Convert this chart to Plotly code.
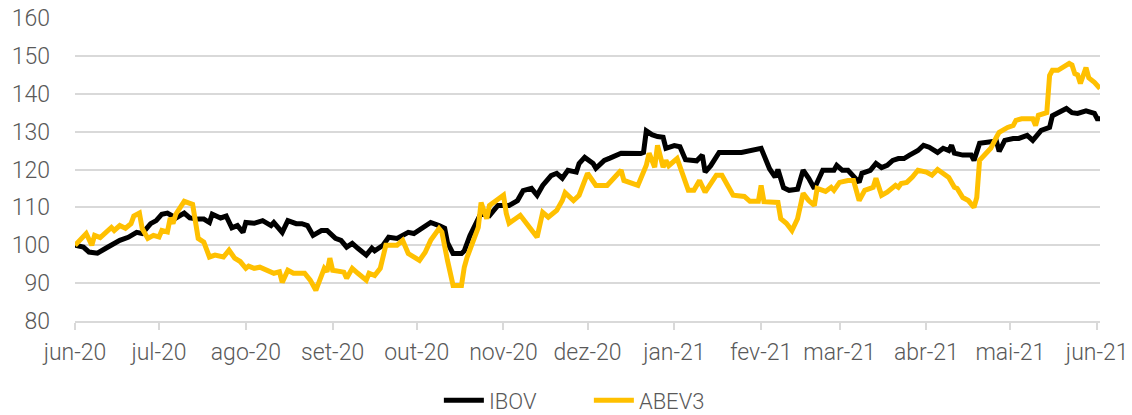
import plotly.graph_objects as go

# ---- data ----
ibov_dates = [
    "2020-06-01", "2020-06-04", "2020-06-06", "2020-06-09", "2020-06-12", "2020-06-14", "2020-06-17",
    "2020-06-20", "2020-06-23", "2020-06-25", "2020-06-28", "2020-06-30", "2020-07-02", "2020-07-04",
    "2020-07-07", "2020-07-10", "2020-07-12", "2020-07-15", "2020-07-17", "2020-07-19", "2020-07-20",
    "2020-07-23", "2020-07-25", "2020-07-27", "2020-07-29", "2020-07-31", "2020-08-01", "2020-08-04",
    "2020-08-07", "2020-08-10", "2020-08-11", "2020-08-14", "2020-08-16", "2020-08-19", "2020-08-21",
    "2020-08-23", "2020-08-25", "2020-08-28", "2020-08-30", "2020-09-02", "2020-09-04", "2020-09-06",
    "2020-09-08", "2020-09-10", "2020-09-13", "2020-09-15", "2020-09-16", "2020-09-19", "2020-09-21",
    "2020-09-24", "2020-09-26", "2020-09-28", "2020-09-30", "2020-10-03", "2020-10-06", "2020-10-09",
    "2020-10-11", "2020-10-12", "2020-10-14", "2020-10-17", "2020-10-18", "2020-10-20", "2020-10-23",
    "2020-10-24", "2020-10-27", "2020-10-30", "2020-11-03", "2020-11-06", "2020-11-08", "2020-11-11",
    "2020-11-13", "2020-11-15", "2020-11-18", "2020-11-20", "2020-11-22", "2020-11-24", "2020-11-27",
    "2020-11-28", "2020-11-30", "2020-12-03", "2020-12-04", "2020-12-07", "2020-12-09", "2020-12-13",
    "2020-12-20", "2020-12-21", "2020-12-22", "2020-12-24", "2020-12-26", "2020-12-28", "2020-12-29",
    "2021-01-01", "2021-01-03", "2021-01-05", "2021-01-09", "2021-01-11", "2021-01-12", "2021-01-14",
    "2021-01-17", "2021-01-25", "2021-02-01", "2021-02-02", "2021-02-04", "2021-02-06", "2021-02-07",
    "2021-02-09", "2021-02-11", "2021-02-14", "2021-02-16", "2021-02-18", "2021-02-20", "2021-02-23",
    "2021-02-27", "2021-02-28", "2021-03-02", "2021-03-04", "2021-03-08", "2021-03-09", "2021-03-12",
    "2021-03-14", "2021-03-16", "2021-03-18", "2021-03-20", "2021-03-22", "2021-03-24", "2021-03-26",
    "2021-03-29", "2021-03-31", "2021-04-02", "2021-04-05", "2021-04-07", "2021-04-09", "2021-04-10",
    "2021-04-11", "2021-04-14", "2021-04-17", "2021-04-18", "2021-04-20", "2021-04-23", "2021-04-26",
    "2021-04-27", "2021-04-29", "2021-05-02", "2021-05-04", "2021-05-07", "2021-05-09", "2021-05-12",
    "2021-05-15", "2021-05-16", "2021-05-19", "2021-05-21", "2021-05-23", "2021-05-25", "2021-05-28",
    "2021-05-29", "2021-05-31", "2021-06-01", "2021-06-02",
]
ibov_values = [
    100, 99.5, 98.2, 97.9, 99.2, 100, 101.3,
    102.1, 103.4, 103.1, 105.7, 106.5, 108.2, 108.5,
    107.2, 108.5, 107.2, 106.9, 106.9, 106, 108.2,
    107.2, 107.7, 104.6, 105.2, 103.4, 106, 105.8,
    106.5, 105.2, 106, 103.4, 106.5, 105.7, 105.7,
    105.2, 102.6, 103.9, 103.9, 101.8, 101.3, 99.5,
    100.5, 99.2, 97.4, 99.2, 98.5, 100, 102.1,
    101.8, 102.6, 103.4, 103.1, 104.4, 106, 105.2,
    104.5, 100.7, 97.8, 97.8, 98.5, 102.5, 106.5,
    108.5, 107.8, 110.5, 110.5, 111.8, 114.4, 115,
    113.2, 115.8, 118.4, 119, 117.7, 119.8, 119.3,
    121.6, 123.2, 121.6, 120.3, 122.4, 123, 124.3,
    124.2, 124.5, 130.2, 129.2, 128.7, 128.5, 125.6,
    126.3, 126, 122.6, 122.3, 123.8, 119.3, 121,
    124.5, 124.5, 125.6, 124, 120.2, 118, 120,
    115.2, 114.5, 114.8, 119.8, 117.7, 115, 119.8,
    119.8, 121.1, 119.8, 119.8, 116.6, 119, 119.8,
    121.6, 120.5, 121.1, 122.4, 122.9, 122.9, 123.8,
    125, 126.4, 125.9, 124.5, 125.6, 125, 126.4,
    124.3, 123.8, 123.8, 122.4, 126.9, 127.2, 127.5,
    124.8, 127.7, 128.2, 128.2, 129, 127.7, 130.3,
    131.1, 134.2, 135.5, 136.1, 135, 134.8, 135.5,
    135.2, 134.8, 133.4, 133.4,
]

abev_dates = [
    "2020-06-01", "2020-06-03", "2020-06-05", "2020-06-07", "2020-06-08", "2020-06-10", "2020-06-12",
    "2020-06-14", "2020-06-15", "2020-06-17", "2020-06-19", "2020-06-21", "2020-06-22", "2020-06-24",
    "2020-06-25", "2020-06-27", "2020-06-29", "2020-07-01", "2020-07-02", "2020-07-04", "2020-07-05",
    "2020-07-06", "2020-07-07", "2020-07-10", "2020-07-13", "2020-07-15", "2020-07-17", "2020-07-19",
    "2020-07-21", "2020-07-24", "2020-07-26", "2020-07-28", "2020-07-30", "2020-08-01", "2020-08-02",
    "2020-08-04", "2020-08-06", "2020-08-09", "2020-08-11", "2020-08-13", "2020-08-14", "2020-08-16",
    "2020-08-18", "2020-08-22", "2020-08-24", "2020-08-26", "2020-08-28", "2020-08-29", "2020-08-30",
    "2020-08-31", "2020-09-01", "2020-09-05", "2020-09-06", "2020-09-08", "2020-09-10", "2020-09-13",
    "2020-09-14", "2020-09-16", "2020-09-18", "2020-09-20", "2020-09-24", "2020-09-26", "2020-09-28",
    "2020-09-30", "2020-10-02", "2020-10-04", "2020-10-06", "2020-10-09", "2020-10-10", "2020-10-12",
    "2020-10-14", "2020-10-17", "2020-10-18", "2020-10-19", "2020-10-21", "2020-10-23", "2020-10-24",
    "2020-10-26", "2020-10-27", "2020-11-01", "2020-11-02", "2020-11-03", "2020-11-07", "2020-11-10",
    "2020-11-13", "2020-11-15", "2020-11-17", "2020-11-20", "2020-11-22", "2020-11-23", "2020-11-26",
    "2020-11-28", "2020-12-01", "2020-12-04", "2020-12-08", "2020-12-13", "2020-12-14", "2020-12-19",
    "2020-12-22", "2020-12-23", "2020-12-25", "2020-12-26", "2020-12-28", "2020-12-29", "2020-12-30",
    "2021-01-02", "2021-01-06", "2021-01-08", "2021-01-10", "2021-01-12", "2021-01-16", "2021-01-18",
    "2021-01-22", "2021-01-26", "2021-01-28", "2021-01-31", "2021-02-01", "2021-02-02", "2021-02-04",
    "2021-02-07", "2021-02-08", "2021-02-10", "2021-02-12", "2021-02-14", "2021-02-16", "2021-02-18",
    "2021-02-20", "2021-02-21", "2021-02-24", "2021-02-26", "2021-02-27", "2021-03-01", "2021-03-04",
    "2021-03-06", "2021-03-08", "2021-03-10", "2021-03-13", "2021-03-14", "2021-03-16", "2021-03-18",
    "2021-03-21", "2021-03-22", "2021-03-23", "2021-03-25", "2021-03-27", "2021-03-29", "2021-04-01",
    "2021-04-03", "2021-04-05", "2021-04-08", "2021-04-09", "2021-04-11", "2021-04-12", "2021-04-14",
    "2021-04-16", "2021-04-18", "2021-04-19", "2021-04-20", "2021-04-22", "2021-04-24", "2021-04-26",
    "2021-04-27", "2021-04-30", "2021-05-02", "2021-05-03", "2021-05-05", "2021-05-09", "2021-05-10",
    "2021-05-11", "2021-05-14", "2021-05-15", "2021-05-16", "2021-05-18", "2021-05-22", "2021-05-23",
    "2021-05-24", "2021-05-25", "2021-05-26", "2021-05-28", "2021-05-29", "2021-05-31", "2021-06-02",
]
abev_values = [
    100, 101.8, 103.1, 100, 102.6, 102, 103.4,
    104.7, 103.9, 105.2, 104.5, 105.7, 107.7, 108.5,
    104.4, 101.8, 102.6, 102.2, 103.9, 103.5, 107.2,
    105.7, 108.2, 111.6, 110.8, 101.8, 100.8, 96.9,
    97.4, 96.9, 98.7, 96.6, 95.7, 93.9, 94.5,
    93.9, 94.2, 93.4, 92.6, 93, 90.2, 93.4,
    92.6, 92.6, 90.8, 88.1, 91.6, 93.9, 93,
    96.6, 93.4, 92.9, 91.3, 93.9, 92.6, 90.8,
    92.6, 92, 93.9, 100, 100, 101.3, 97.8,
    96.9, 96, 98.1, 101.3, 104.4, 103.5, 96,
    89.4, 89.4, 94.2, 96.8, 100.5, 104.7, 111.3,
    107, 110.5, 113.2, 108.4, 105.8, 107.9, 105.2,
    102.1, 108.7, 107.4, 109.2, 111.8, 113.9, 111.8,
    113.2, 119, 115.8, 115.8, 119.8, 117.1, 115.8,
    121.1, 124.3, 120.6, 126.4, 120.6, 122.4, 121,
    122.9, 114.5, 114.5, 117.1, 114, 118.5, 118.5,
    113.2, 112.9, 111.6, 111.6, 115.8, 111.5, 111.3,
    111.3, 107, 105.8, 103.9, 107, 113.7, 111.8,
    110.5, 115, 114.2, 115.3, 114.5, 116.6, 117.1,
    117.1, 111.8, 114.5, 115.3, 117.7, 113.2, 114,
    115.8, 115.3, 116.3, 116.6, 118, 119.8, 119.3,
    118.5, 120, 118.5, 117.9, 115.3, 115, 112.6,
    111.8, 110, 112.6, 122.4, 123.8, 125.6, 128.5,
    129.8, 131.1, 131.6, 133, 133.4, 133.4, 131.6,
    134.3, 135, 144.8, 146.2, 146.2, 148, 147.6,
    145.3, 145, 142.7, 146.9, 144.2, 143, 141.4,
]

tick_dates = [
    "2020-06-01", "2020-07-01", "2020-08-01", "2020-09-01", "2020-10-01", "2020-11-01", "2020-12-01",
    "2021-01-01", "2021-02-01", "2021-03-01", "2021-04-01", "2021-05-01", "2021-06-01",
]
tick_labels = [
    "jun-20", "jul-20", "ago-20", "set-20", "out-20", "nov-20", "dez-20",
    "jan-21", "fev-21", "mar-21", "abr-21", "mai-21", "jun-21",
]
series_names = ["IBOV", "ABEV3"]
series_colors = ["#000000", "#FFC000"]

# ---- figure ----
fig = go.Figure()
fig.add_trace(go.Scatter(x=ibov_dates, y=ibov_values, mode="lines", name=series_names[0],
                         line=dict(color=series_colors[0], width=5)))
fig.add_trace(go.Scatter(x=abev_dates, y=abev_values, mode="lines", name=series_names[1],
                         line=dict(color=series_colors[1], width=5)))

font_family = "Roboto"
gray = "#595959"
grid = "#d9d9d9"

fig.update_layout(
    width=1132, height=415,
    margin=dict(l=75, r=32, t=18, b=94, autoexpand=False),
    paper_bgcolor="white", plot_bgcolor="white",
    font=dict(family=font_family, size=23, color=gray, weight=300),
    showlegend=True,
    legend=dict(orientation="h", x=0.355, xanchor="left",
                y=-0.262, yanchor="middle", font=dict(size=22, color=gray, weight=300),
                entrywidth=95, entrywidthmode="pixels",
                itemwidth=40, tracegroupgap=0, bgcolor="rgba(0,0,0,0)"),
    xaxis=dict(type="date", range=["2020-06-01", "2021-06-02"],
               tickmode="array", tickvals=tick_dates, ticktext=tick_labels,
               tickangle=0, automargin=False,
               ticks="outside", ticklen=7, tickwidth=1.5, tickcolor=grid,
               showline=True, linecolor=grid, linewidth=1.5,
               showgrid=False, zeroline=False,
               tickfont=dict(size=23, color=gray, weight=300),
               ticklabeloverflow="allow",
               ticklabelstandoff=3),
    yaxis=dict(range=[80, 160], dtick=10, tick0=80, automargin=False,
               showgrid=True, gridcolor=grid, gridwidth=1.5,
               showline=False, zeroline=False, ticks="",
               tickfont=dict(size=23, color=gray, weight=300),
               ticklabeloverflow="allow",
               ticklabelstandoff=24),
)

# remove the browser's default 8px page margin so the figure fills the window exactly
fig.write_html("out.html", config={"displayModeBar": False},
               post_script="document.body.style.margin='0';")
